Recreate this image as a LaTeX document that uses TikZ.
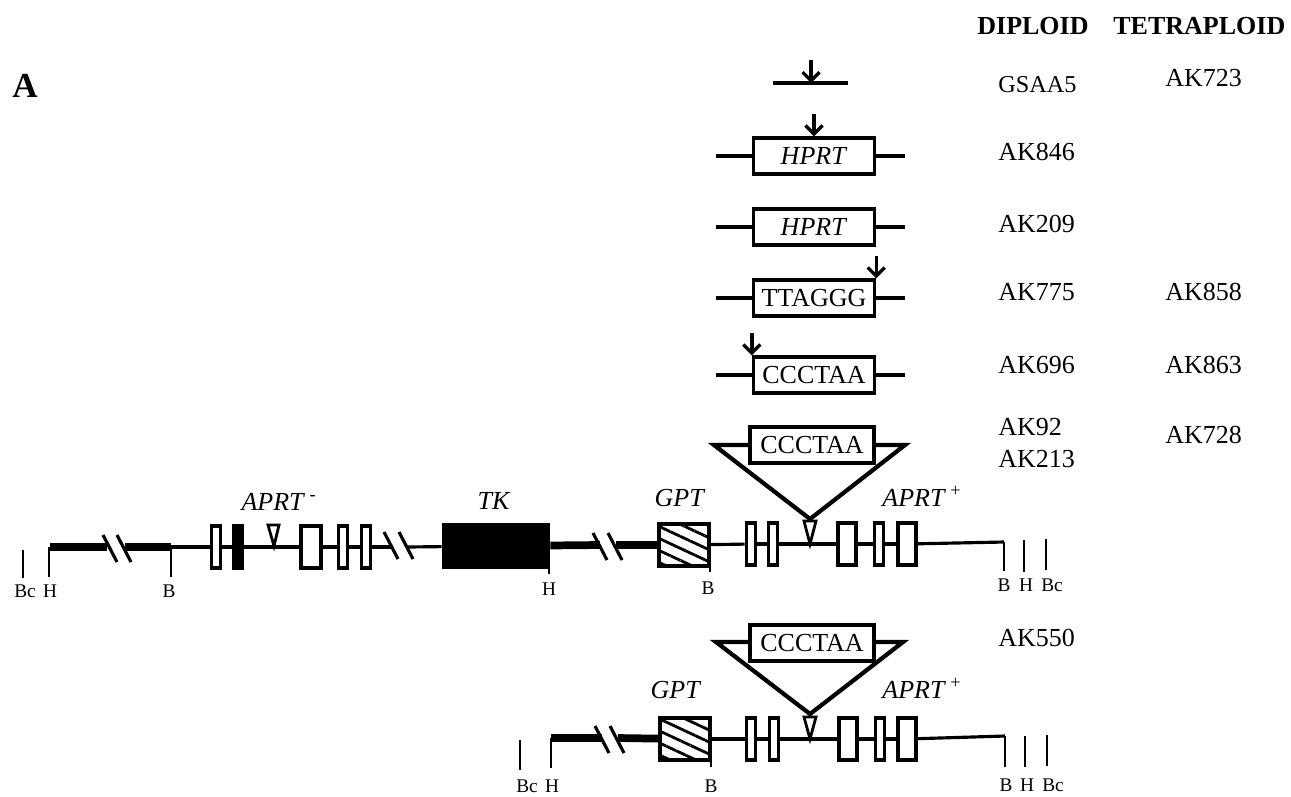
\documentclass[tikz,border=0pt]{standalone}
\usepackage{fontspec}
\setmainfont{Liberation Serif}
\usetikzlibrary{arrows.meta,patterns.meta}

\begin{document}
\begin{tikzpicture}[x=0.02cm, y=-0.02cm, every node/.style={font=\fontsize{14.8}{16}\selectfont, inner sep=0pt}, >={Straight Barb[length=1.7mm, width=3.4mm]},
	probe/.style={draw, line width=1.9pt, fill=white, minimum width=121*0.02cm, minimum height=36*0.02cm},
	exon/.style={draw, line width=1.9pt, fill=white, minimum height=42*0.02cm},
	hatched/.style={draw, line width=2.2pt, minimum width=50*0.02cm, minimum height=42*0.02cm, pattern={Lines[angle=-25, distance=6.2pt, line width=1.6pt]}},
	site/.style={font=\fontsize{11}{12}\selectfont, anchor=base},
	flank/.style={line width=1.9pt},
	thinline/.style={line width=1.8pt},
	thickline/.style={line width=4.4pt},
	tick/.style={line width=1.6pt},
	slash/.style={line width=1.8pt},
	insert/.style={line width=2.4pt, line join=miter},
	tip/.style={draw, line width=1.6pt, fill=white, line join=miter},
	clone/.style={anchor=base west}]
	\useasboundingbox (0,0) rectangle (1291,796);
	% probe rows
	\coordinate (p1a) at (773,83);
	\coordinate (p1b) at (848,83);
	\coordinate (p1) at (811,83);
	\draw[flank] (p1a) -- (p1b);
	\foreach \n/\y/\t in {r2/156/\textit{HPRT}, r3/227/\textit{HPRT}, r4/298/TTAGGG, r5/375/CCCTAA} {
		\node[probe] (\n) at (814,\y) {\t};
		\coordinate (\n l) at (716,\y);
		\coordinate (\n r) at (905,\y);
		\draw[flank] (\n l) -- (\n) -- (\n r);
	}
	\foreach \e/\h in {p1/23, r2.north/22, r4.north east/22, r5.north west/22} {
		\draw[->, line width=1.9pt] ([yshift=\h*0.02cm]\e) -- (\e);
	}
	% upper insert
	\coordinate (ul) at (714,445);
	\coordinate (ur) at (905,445);
	\coordinate (ua) at (810,519);
	\draw[insert] (ul) -- (ua) -- (ur) -- cycle;
	\node[probe, minimum width=124*0.02cm] (ubox) at (812,445) {CCCTAA};
	% main map, left part
	\foreach \n/\x/\w in {m1/216/9.5, m3/311/20, m4/343/9.5, m5/366/9.5} {\node[exon, minimum width=\w*0.02cm] (\n) at (\x,547) {};}
	\node[exon, fill=black, minimum width=9.5*0.02cm] (m2) at (238,547) {};
	\node[draw, fill=black, line width=1pt, minimum width=107*0.02cm, minimum height=44*0.02cm] (tk) at (496,546) {};
	\node[hatched] (gpt) at (684,545) {};
	\coordinate (hl) at (50,547);
	\coordinate (bl) at (171,547);
	\coordinate (b1) at (107,547);
	\coordinate (b2) at (125,547);
	\coordinate (b3) at (392,547);
	\coordinate (b4) at (407,547);
	\coordinate (b5) at (600,545);
	\coordinate (b6) at (616,545);
	\draw[thickline] (hl) -- (b1);
	\draw[thickline] (b2) -- (bl);
	\draw[thickline] (tk) -- (b5);
	\draw[thickline] (b6) -- (gpt);
	\draw[thinline] (bl) -- (m1);
	\draw[thinline] (m1) -- (m2);
	\draw[thinline] (m2) -- (m3);
	\draw[thinline] (m3) -- (m4);
	\draw[thinline] (m4) -- (m5);
	\draw[thinline] (m5) -- (b3);
	\draw[thinline] (b4) -- (tk);
	% main map, right part
	\foreach \n/\x/\w in {n1/751/9.5, n2/773/9.5, n3/847/18, n4/879/9.5, n5/907/18} {\node[exon, minimum width=\w*0.02cm] (\n) at (\x,544) {};}
	\coordinate (nb) at (1004,542);
	\draw[thinline] (gpt) -- (n1);
	\draw[thinline] (n1) -- (n2);
	\draw[thinline] (n2) -- (n3);
	\draw[thinline] (n3) -- (n4);
	\draw[thinline] (n4) -- (n5);
	\draw[thinline] (n5) -- (nb);
	\foreach \x/\y in {110/548, 124/548, 391/545, 406/545, 600/546, 615/546} {\draw[slash] (\x,\y) ++(-7,-13) -- ++(14,27);}
	\draw[tip] (268,525) -- (279,525) -- (274,546) -- cycle;
	\draw[tip] (804,521) -- (816,521) -- (810,544) -- cycle;
	\foreach \x/\a/\b in {23/550/578, 49/547/577, 171/547/577, 549/566/574, 710/566/572, 1004/542/571, 1024/540/572, 1046/539/570} {\draw[tick] (\x,\a) -- (\x,\b);}
	\foreach \n/\x/\y/\t in {s1/25/597/Bc, s2/50/597/H, s3/169/597/B, s4/549/595/H, s5/708/594/B, s6/1004/591/B, s7/1026/591/H, s8/1052/591/Bc} {\node[site] (\n) at (\x,\y) {\t};}
	\node[anchor=base] (laprtm) at (279,510) {\textit{APRT}\,\textsuperscript{-}};
	\node[anchor=base] (ltk) at (494,509) {\textit{TK}};
	\node[anchor=base] (lgpt) at (680,506) {\textit{GPT}};
	\node[anchor=base] (laprtp) at (922,506) {\textit{APRT}\,\textsuperscript{+}};
	% lower map
	\coordinate (ll) at (716,642);
	\coordinate (lr) at (903,642);
	\coordinate (la) at (810,714);
	\draw[insert] (ll) -- (la) -- (lr) -- cycle;
	\node[probe, minimum width=124*0.02cm] (lbox) at (812,643) {CCCTAA};
	\foreach \n/\x/\w in {q1/751/9.5, q2/774/9.5, q3/848/18, q4/880/9.5, q5/907/18} {\node[exon, minimum width=\w*0.02cm] (\n) at (\x,739) {};}
	\node[hatched] (gpt2) at (685,739) {};
	\coordinate (qh) at (551,738);
	\coordinate (q6) at (602,738);
	\coordinate (q7) at (618,738);
	\coordinate (qb) at (1005,736);
	\draw[thickline] (qh) -- (q6);
	\draw[thickline] (q7) -- (gpt2);
	\draw[thinline] (gpt2) -- (q1);
	\draw[thinline] (q1) -- (q2);
	\draw[thinline] (q2) -- (q3);
	\draw[thinline] (q3) -- (q4);
	\draw[thinline] (q4) -- (q5);
	\draw[thinline] (q5) -- (qb);
	\foreach \x/\y in {602/739, 617/739} {\draw[slash] (\x,\y) ++(-7,-13) -- ++(14,27);}
	\draw[tip] (804,717) -- (816,717) -- (810,739) -- cycle;
	\foreach \x/\a/\b in {520/740/770, 551/738/768, 711/760/767, 1005/736/767, 1025/736/767, 1047/735/766} {\draw[tick] (\x,\a) -- (\x,\b);}
	\foreach \n/\x/\y/\t in {z1/527/792/Bc, z2/552/792/H, z3/711/792/B, z4/1006/791/B, z5/1027/791/H, z6/1053/791/Bc} {\node[site] (\n) at (\x,\y) {\t};}
	\node[anchor=base] (lgpt2) at (676,698) {\textit{GPT}};
	\node[anchor=base] (laprt2) at (922,698) {\textit{APRT}\,\textsuperscript{+}};
	% clone names
	\node[clone] (hd) at (977,34) {\textbf{DIPLOID}};
	\node[clone] (ht) at (1113,34) {\textbf{TETRAPLOID}};
	\node[clone, font=\fontsize{20}{22}\selectfont\bfseries] (pa) at (12,97) {A};
	\node[clone, font=\fontsize{13.8}{16}\selectfont] (c1) at (998,92) {GSAA5};
	\foreach \n/\x/\y/\t in {c2/998/160/AK846, c3/998/232/AK209, c4/998/300/AK775, c5/998/373/AK696, c6/998/435/AK92, c7/998/467/AK213, c8/998/646/AK550, d1/1165/86/AK723, d2/1165/300/AK858, d3/1165/373/AK863, d4/1165/443/AK728} {\node[clone] (\n) at (\x,\y) {\t};}
\end{tikzpicture}
\end{document}
